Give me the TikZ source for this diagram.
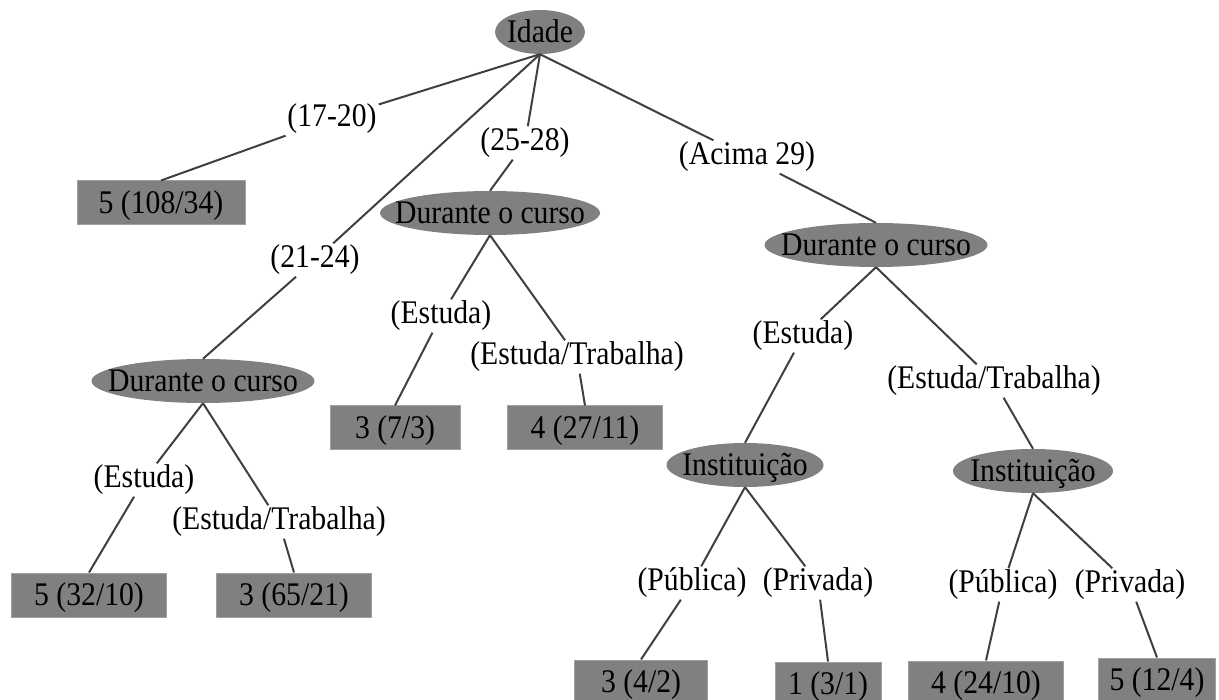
\documentclass[tikz,border=0pt]{standalone}
\usepackage{fontspec}
\setmainfont{Liberation Serif}[FakeStretch=0.9]
\usepackage{tikz}
\usetikzlibrary{shapes}
\definecolor{cinza}{RGB}{128,128,128}
\tikzset{
    atributo/.style={ellipse, fill=cinza, inner sep=0pt, minimum height=44pt,
        text height=22pt, text depth=1pt},
    folha/.style={rectangle, fill=cinza, draw=cinza!75!white, line width=1pt,
        inner sep=0pt, minimum height=44pt, text height=24pt, text depth=3pt},
    ramo/.style={inner sep=2pt, text height=22pt, text depth=7pt},
    galho/.style={draw=black!75, line width=2pt},
}
\newcommand{\rotulo}[1]{\makebox[0pt]{#1}}

\begin{document}
\begin{tikzpicture}[x=1pt, y=-1pt, font=\fontsize{33}{36}\selectfont]
		\path[use as bounding box, fill=white] (0,0) rectangle (1219,700);
		% atributos
		\node[atributo, minimum width=90pt] (idade) at (540,32) {\rotulo{Idade}};
		\node[atributo, minimum width=223pt] (curso1) at (203,381) {\rotulo{Durante o curso}};
		\node[atributo, minimum width=220pt] (curso2) at (490,213) {\rotulo{Durante o curso}};
		\node[atributo, minimum width=223pt] (curso3) at (876,245) {\rotulo{Durante o curso}};
		\node[atributo, minimum width=157pt] (inst1) at (745,465) {\rotulo{Instituição}};
		\node[atributo, minimum width=160pt] (inst2) at (1033,471) {\rotulo{Instituição}};
		% ramos
		\node[ramo] (r1720) at (332,119) {(17-20)};
		\node[ramo] (r2124) at (315,260) {(21-24)};
		\node[ramo] (r2528) at (525,143) {(25-28)};
		\node[ramo] (racima) at (747,157) {(Acima 29)};
		\node[ramo] (est1) at (144,480) {(Estuda)};
		\node[ramo] (trab1) at (279,522) {(Estuda/Trabalha)};
		\node[ramo] (est2) at (441,316) {(Estuda)};
		\node[ramo] (trab2) at (577,357) {(Estuda/Trabalha)};
		\node[ramo] (est3) at (803,336) {(Estuda)};
		\node[ramo] (trab3) at (994,381) {(Estuda/Trabalha)};
		\node[ramo] (pub1) at (692,583) {(Pública)};
		\node[ramo] (priv1) at (818,583) {(Privada)};
		\node[ramo] (pub2) at (1003,585) {(Pública)};
		\node[ramo] (priv2) at (1130,585) {(Privada)};
		% folhas
		\node[folha, minimum width=168pt] (f1) at (161,203) {5 (108/34)};
		\node[folha, minimum width=155pt] (f2) at (89,595) {5 (32/10)};
		\node[folha, minimum width=155pt] (f3) at (294,595) {3 (65/21)};
		\node[folha, minimum width=130pt] (f4) at (395,428) {3 (7/3)};
		\node[folha, minimum width=155pt] (f5) at (585,428) {4 (27/11)};
		\node[folha, minimum width=133pt] (f6) at (641,682) {3 (4/2)};
		\node[folha, minimum width=106pt] (f7) at (828,684) {1 (3/1)};
		\node[folha, minimum width=155pt] (f8) at (986,683) {4 (24/10)};
		\node[folha, minimum width=117pt] (f9) at (1157,680) {5 (12/4)};
		% arestas
		\draw[galho] (idade.south) -- (r1720);
		\draw[galho] (r1720) -- (f1.north);
		\draw[galho] (idade.south) -- (r2124);
		\draw[galho] (r2124) -- (curso1.north);
		\draw[galho] (idade.south) -- (r2528);
		\draw[galho] (r2528) -- (curso2.north);
		\draw[galho] (idade.south) -- (racima);
		\draw[galho] (racima) -- (curso3.north);
		%
		\draw[galho] (curso1.south) -- (est1);
		\draw[galho] (est1) -- (f2.north);
		\draw[galho] (curso1.south) -- (trab1);
		\draw[galho] (trab1) -- (f3.north);
		%
		\draw[galho] (curso2.south) -- (est2);
		\draw[galho] (est2) -- (f4.north);
		\draw[galho] (curso2.south) -- (trab2);
		\draw[galho] (trab2) -- (f5.north);
		%
		\draw[galho] (curso3.south) -- (est3);
		\draw[galho] (est3) -- (inst1.north);
		\draw[galho] (curso3.south) -- (trab3);
		\draw[galho] (trab3) -- (inst2.north);
		%
		\draw[galho] (inst1.south) -- (pub1);
		\draw[galho] (pub1) -- (f6.north);
		\draw[galho] (inst1.south) -- (priv1);
		\draw[galho] (priv1) -- (f7.north);
		\draw[galho] (inst2.south) -- (pub2);
		\draw[galho] (pub2) -- (f8.north);
		\draw[galho] (inst2.south) -- (priv2);
		\draw[galho] (priv2) -- (f9.north);
	\end{tikzpicture}
\end{document}
